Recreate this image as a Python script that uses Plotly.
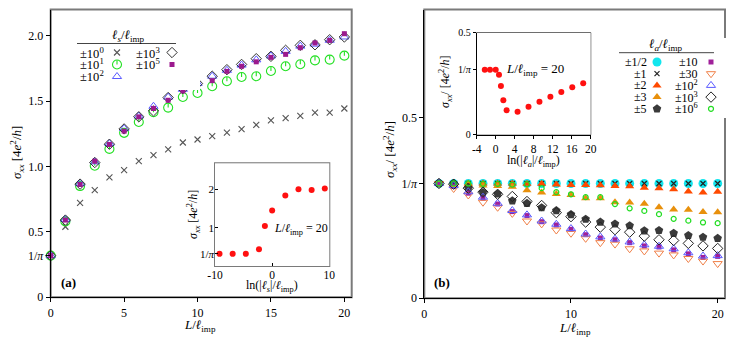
import numpy as np
import plotly.graph_objects as go

# page is offset by the browser's default 8px body margin -> figure is 739x330
OFF = 8
FW, FH = 739, 330
FONT = "Liberation Serif"
PI_INV = 1 / np.pi

# ---------------- Panel (a) data ----------------
L_a = list(range(0, 21))
sig_a_1e0 = [0.318, 0.539, 0.722, 0.819, 0.916, 0.972, 1.040, 1.086, 1.130, 1.183, 1.206,
             1.231, 1.259, 1.285, 1.318, 1.353, 1.369, 1.386, 1.412, 1.412, 1.443]
sig_a_1e1 = [0.318, 0.580, 0.850, 1.005, 1.134, 1.257, 1.340, 1.414, 1.450, 1.531, 1.562,
             1.613, 1.651, 1.684, 1.690, 1.730, 1.766, 1.781, 1.811, 1.817, 1.847]
sig_a_1e2 = [0.318, 0.595, 0.870, 1.035, 1.175, 1.290, 1.385, 1.460, 1.530, 1.590, 1.635,
             1.690, 1.735, 1.775, 1.815, 1.845, 1.880, 1.920, 1.935, 1.965, 1.990]
sig_a_1e3 = [0.318, 0.590, 0.865, 1.030, 1.170, 1.287, 1.380, 1.425, 1.527, 1.595, 1.634,
             1.690, 1.740, 1.780, 1.824, 1.842, 1.888, 1.926, 1.930, 1.969, 1.990]
sig_a_1e5 = [0.318, 0.590, 0.862, 1.040, 1.168, 1.270, 1.379, 1.443, 1.506, 1.577, 1.628,
             1.656, 1.727, 1.766, 1.800, 1.834, 1.857, 1.908, 1.944, 1.964, 2.015]

# inset (a): sigma at L/l_imp = 20 vs ln(|l_s|/l_imp)
ls_vals = [1e-4, 1e-3, 1e-2, 1e-1, 0.28, 1.0, 1e1, 1e2, 1e3, 1e4]
sig_ins_a = [0.318, 0.318, 0.318, 0.44, 1.045, 1.447, 1.84, 2.0, 1.98, 2.02]

# ---------------- Panel (b) data ----------------
L_b = list(range(1, 21))
sig_b_half = [0.318] * 20
sig_b_1 = [0.318] * 20
sig_b_2 = [0.318, 0.318, 0.318, 0.318, 0.318, 0.318, 0.317, 0.317, 0.315, 0.314,
           0.314, 0.313, 0.311, 0.310, 0.306, 0.305, 0.302, 0.296, 0.293, 0.295]
sig_b_3 = [0.318, 0.318, 0.316, 0.312, 0.311, 0.309, 0.299, 0.293, 0.289, 0.286,
           0.277, 0.277, 0.266, 0.265, 0.262, 0.252, 0.246, 0.245, 0.239, 0.238]
sig_b_5 = [0.318, 0.318, 0.305, 0.293, 0.289, 0.270, 0.263, 0.251, 0.243, 0.232,
           0.219, 0.211, 0.206, 0.201, 0.187, 0.188, 0.180, 0.174, 0.169, 0.166]
sig_b_10 = [0.318, 0.310, 0.291, 0.277, 0.261, 0.240, 0.229, 0.212, 0.203, 0.191,
            0.176, 0.167, 0.162, 0.154, 0.145, 0.142, 0.134, 0.123, 0.113, 0.116]
sig_b_30 = [0.318, 0.304, 0.286, 0.266, 0.252, 0.235, 0.214, 0.206, 0.189, 0.180,
            0.166, 0.154, 0.150, 0.137, 0.131, 0.125, 0.120, 0.110, 0.103, 0.096]
sig_b_1e2 = [0.318, 0.312, 0.295, 0.280, 0.263, 0.243, 0.231, 0.214, 0.205, 0.193,
             0.178, 0.170, 0.164, 0.156, 0.148, 0.144, 0.137, 0.126, 0.117, 0.118]
sig_b_1e3 = [0.318, 0.316, 0.305, 0.294, 0.288, 0.282, 0.268, 0.257, 0.237, 0.226,
             0.211, 0.197, 0.190, 0.183, 0.172, 0.162, 0.160, 0.152, 0.145, 0.138]
sig_b_1e6 = [0.318, 0.318, 0.318, 0.317, 0.317, 0.315, 0.316, 0.305, 0.294, 0.288,
             0.280, 0.280, 0.261, 0.249, 0.242, 0.233, 0.220, 0.215, 0.210, 0.208]

# inset (b)
la_vals = [0.1, 0.3, 1.0, 2.0, 3.0, 5.0, 10.0, 1e2, 1e3, 1e4, 1e5, 1e6, 1e7, 1e8]
sig_ins_b = [0.318, 0.318, 0.318, 0.294, 0.239, 0.169, 0.120, 0.113, 0.137, 0.162,
             0.186, 0.209, 0.232, 0.252]

# tick labels
ticks_a_x = [0, 5, 10, 15, 20]
ticks_a_y = [0, PI_INV, 0.5, 1.0, 1.5, 2.0]
ticks_a_y_text = ["0", "1/<i>π</i>", "0.5", "1.0", "1.5", "2.0"]
ticks_b_x = [0, 10, 20]
ticks_b_y = [0, PI_INV, 0.5]
ticks_b_y_text = ["0", "1/<i>π</i>", "0.5"]
ticks_ia_x = [-10, 0, 10]
ticks_ia_x_text = ["-10", "0", "10"]
ticks_ia_y = [PI_INV, 1, 2]
ticks_ia_y_text = ["1/<i>π</i>", "1", "2"]
ticks_ib_x = [-4, 0, 4, 8, 12, 16, 20]
ticks_ib_x_text = ["-4", "0", "4", "8", "12", "16", "20"]
ticks_ib_y = [0, PI_INV, 0.5]
ticks_ib_y_text = ["0", "1/<i>π</i>", "0.5"]

# ---------------- styles ----------------
GREEN_A = "#22e022"
series_a = [
    ("±10<sup>0</sup>", sig_a_1e0, dict(symbol="x-thin-open", size=6, color="#555555", line=dict(width=1.1, color="#555555")), None),
    ("±10<sup>1</sup>", sig_a_1e1, dict(symbol="circle-open", size=9, color=GREEN_A, line=dict(width=1.1, color=GREEN_A)), "tick"),
    ("±10<sup>2</sup>", sig_a_1e2, dict(symbol="triangle-up-open", size=8, color="#5a5aff", line=dict(width=1, color="#5a5aff")), None),
    ("±10<sup>3</sup>", sig_a_1e3, dict(symbol="diamond-open", size=8, color="#333333", line=dict(width=1, color="#333333")), None),
    ("±10<sup>5</sup>", sig_a_1e5, dict(symbol="square", size=5, color="#9c1a8e", line=dict(width=0)), None),
]
legend_a_pos = [(0, 0), (0, 1), (0, 2), (1, 0), (1, 1)]

series_b = [
    ("±1/2", sig_b_half, dict(symbol="circle", size=9, color="#12e6ee", line=dict(width=0))),
    ("±1", sig_b_1, dict(symbol="x-thin-open", size=5, color="#222222", line=dict(width=1.2, color="#222222"))),
    ("±2", sig_b_2, dict(symbol="triangle-up", size=8, color="#ff4a00", line=dict(width=0))),
    ("±3", sig_b_3, dict(symbol="triangle-up", size=8, color="#e8900c", line=dict(width=0))),
    ("±5", sig_b_5, dict(symbol="pentagon", size=9, color="#3a3a3a", line=dict(width=0))),
    ("±10", sig_b_10, dict(symbol="square", size=5, color="#a0209a", line=dict(width=0))),
    ("±30", sig_b_30, dict(symbol="triangle-down-open", size=8, color="#f08048", line=dict(width=1, color="#f08048"))),
    ("±10<sup>2</sup>", sig_b_1e2, dict(symbol="triangle-up-open", size=8, color="#5a5aff", line=dict(width=1, color="#5a5aff"))),
    ("±10<sup>3</sup>", sig_b_1e3, dict(symbol="diamond-open", size=8, color="#222222", line=dict(width=1, color="#222222"))),
    ("±10<sup>6</sup>", sig_b_1e6, dict(symbol="circle-open", size=5, color="#22dd22", line=dict(width=1.2, color="#22dd22"))),
]


def fx(p):
    return (p - OFF) / FW


def fy(p):
    return 1 - (p - OFF) / FH


def dom_x(p0, p1):
    return [fx(p0), fx(p1)]


def dom_y(top, bottom):
    return [fy(bottom), fy(top)]


fig = go.Figure()

for name, ys, mk, extra in series_a:
    tr = dict(x=L_a, y=ys, mode="markers", marker=mk, cliponaxis=False,
              xaxis="x", yaxis="y", showlegend=False, name=name)
    if extra == "tick":
        tr["error_y"] = dict(type="data", symmetric=False, array=[0.032] * len(ys),
                             arrayminus=[0] * len(ys), width=0, thickness=1.1, color=GREEN_A)
    fig.add_trace(go.Scatter(**tr))

for name, ys, mk in series_b:
    fig.add_trace(go.Scatter(x=L_b, y=ys, mode="markers", marker=mk, cliponaxis=False,
                             xaxis="x2", yaxis="y2", showlegend=False, name=name))

fig.add_trace(go.Scatter(x=np.log(ls_vals), y=sig_ins_a, mode="markers",
                         marker=dict(symbol="circle", size=6, color="#ff1010"),
                         xaxis="x3", yaxis="y3", showlegend=False, cliponaxis=False))
fig.add_trace(go.Scatter(x=np.log(la_vals), y=sig_ins_b, mode="markers",
                         marker=dict(symbol="circle", size=6, color="#ff1010"),
                         xaxis="x4", yaxis="y4", showlegend=False, cliponaxis=False))

annotations = []
shapes = []


def txt(x, y, text, size=13, angle=0, xanchor="center", yanchor="middle"):
    annotations.append(dict(x=fx(x), y=fy(y), xref="paper", yref="paper", text=text,
                            showarrow=False, textangle=angle, xanchor=xanchor, yanchor=yanchor,
                            font=dict(family=FONT, size=size, color="black")))


# ---------------- custom legends (helper axes in page-pixel units) ----------------
LA_COL_TEXT = [78, 134]
LA_COL_SYM = [117, 172]
LA_ROW0, LA_DY = 52.5, 12
for (name, ys, mk, extra), (c, r) in zip(series_a, legend_a_pos):
    yy = LA_ROW0 + r * LA_DY
    tr = dict(x=[LA_COL_SYM[c]], y=[yy], mode="markers", marker=mk, xaxis="x5", yaxis="y5",
              showlegend=False, cliponaxis=False, hoverinfo="skip")
    if extra == "tick":
        tr["error_y"] = dict(type="data", symmetric=False, array=[0], arrayminus=[4.2],
                             width=0, thickness=1.1, color=GREEN_A)
    fig.add_trace(go.Scatter(**tr))
    txt(LA_COL_TEXT[c], yy, name, size=12.5, xanchor="left")
txt(129, 35.5, "<i>ℓ</i><sub><i>s</i></sub>/<i>ℓ</i><sub>imp</sub>", size=13)
shapes.append(dict(type="line", xref="paper", yref="paper", x0=fx(77), x1=fx(176),
                   y0=fy(43.5), y1=fy(43.5), line=dict(color="#444444", width=1)))

LB_COL_TEXT = [649, 700]
LB_COL_SYM = [657, 711]
LB_ROW0, LB_DY = 62, 11.7
for i, (name, ys, mk) in enumerate(series_b):
    c, r = divmod(i, 5)
    yy = LB_ROW0 + r * LB_DY
    fig.add_trace(go.Scatter(x=[LB_COL_SYM[c]], y=[yy], mode="markers", marker=mk,
                             xaxis="x6", yaxis="y6", showlegend=False, cliponaxis=False,
                             hoverinfo="skip"))
    txt(LB_COL_TEXT[c], yy, name, size=12, xanchor="right")
txt(666, 45, "<i>ℓ</i><sub><i>a</i></sub>/<i>ℓ</i><sub>imp</sub>", size=13)
shapes.append(dict(type="line", xref="paper", yref="paper", x0=fx(619), x1=fx(714),
                   y0=fy(52.7), y1=fy(52.7), line=dict(color="#444444", width=1)))

# ---------------- titles / labels ----------------
YTITLE = "<i>σ</i><sub><i>xx</i></sub> [4<i>e</i><sup>2</sup>/<i>h</i>]"
YTITLE_B = "<i>σ</i><sub><i>xx</i></sub>/ [4<i>e</i><sup>2</sup>/<i>h</i>]"
XTITLE = "<i>L</i>/<i>ℓ</i><sub>imp</sub>"
txt(17, 153, YTITLE, size=13, angle=-90)
txt(200, 325, XTITLE, size=13)
txt(390, 150, YTITLE_B, size=13, angle=-90)
txt(575, 328, XTITLE, size=13)
txt(193, 215, YTITLE, size=12, angle=-90)
txt(272, 285.5, "ln(|<i>ℓ</i><sub><i>s</i></sub>|/<i>ℓ</i><sub>imp</sub>)", size=12)
txt(445, 82, YTITLE_B, size=12, angle=-90)
txt(533, 161, "ln(|<i>ℓ</i><sub><i>a</i></sub>|/<i>ℓ</i><sub>imp</sub>)", size=12)
txt(68.5, 282, "<b>(a)</b>", size=13)
txt(442, 282, "<b>(b)</b>", size=13)
txt(301, 229, "<i>L</i>/<i>ℓ</i><sub>imp</sub> = 20", size=12)
txt(535, 70, "<i>L</i>/<i>ℓ</i><sub>imp</sub> = 20", size=13)

# frames
FRAME = "#7a7a7a"
for xr, yr, col, wd in [("x", "y", FRAME, 2), ("x2", "y2", FRAME, 2), ("x3", "y3", FRAME, 2), ("x4", "y4", "black", 1)]:
    shapes.append(dict(type="rect", xref=f"{xr} domain", yref=f"{yr} domain", x0=0, x1=1, y0=0, y1=1,
                       line=dict(color=col, width=wd), layer="below"))


def axis(**kw):
    d = dict(showline=True, linecolor="black", linewidth=1, ticks="outside", ticklen=4,
             tickwidth=1, tickcolor="black", showgrid=False, zeroline=False, mirror=False,
             tickfont=dict(family=FONT, size=12, color="black"), automargin=False)
    d.update(kw)
    return d


fig.update_layout(
    width=FW, height=FH, margin=dict(l=0, r=0, t=0, b=0),
    paper_bgcolor="white", plot_bgcolor="white", showlegend=False,
    font=dict(family=FONT, color="black"),
    xaxis=axis(domain=dom_x(50.7, 351.7), range=[0, 20.5], tickvals=ticks_a_x, anchor="y"),
    yaxis=axis(domain=dom_y(9.5, 297.3), range=[-0.0005, 2.2], tickvals=ticks_a_y,
               ticktext=ticks_a_y_text, anchor="x"),
    xaxis2=axis(domain=dom_x(424.3, 725), range=[0, 20.5], tickvals=ticks_b_x, anchor="y2"),
    yaxis2=axis(domain=dom_y(9.5, 298.3), range=[-0.0002, 0.8], tickvals=ticks_b_y,
                ticktext=ticks_b_y_text, anchor="x2"),
    xaxis3=axis(domain=dom_x(215, 329.3), range=[-10, 10], tickvals=ticks_ia_x, ticktext=ticks_ia_x_text,
                ticks="inside", ticklen=3, showline=False, tickfont=dict(family=FONT, size=11.5, color="black"),
                anchor="y3"),
    yaxis3=axis(domain=dom_y(163.3, 266), range=[0, 2.68], tickvals=ticks_ia_y, ticktext=ticks_ia_y_text,
                ticks="inside", ticklen=3, showline=False, tickfont=dict(family=FONT, size=11, color="black"),
                anchor="x3"),
    xaxis4=axis(domain=dom_x(476.7, 590.7), range=[-4, 20], tickvals=ticks_ib_x, ticktext=ticks_ib_x_text,
                ticklen=3, tickfont=dict(family=FONT, size=11.5, color="black"), anchor="y4"),
    yaxis4=axis(domain=dom_y(32.7, 134.7), range=[0, 0.5], tickvals=ticks_ib_y, ticktext=ticks_ib_y_text,
                ticklen=3, tickfont=dict(family=FONT, size=10, color="black"), anchor="x4"),
    xaxis5=dict(domain=dom_x(60, 200), range=[60, 200], visible=False, fixedrange=True, anchor="y5"),
    yaxis5=dict(domain=dom_y(28, 90), range=[90, 28], visible=False, fixedrange=True, anchor="x5"),
    xaxis6=dict(domain=dom_x(600, 730), range=[600, 730], visible=False, fixedrange=True, anchor="y6"),
    yaxis6=dict(domain=dom_y(38, 118), range=[118, 38], visible=False, fixedrange=True, anchor="x6"),
    annotations=annotations,
    shapes=shapes,
)

fig.write_html("out.html")
